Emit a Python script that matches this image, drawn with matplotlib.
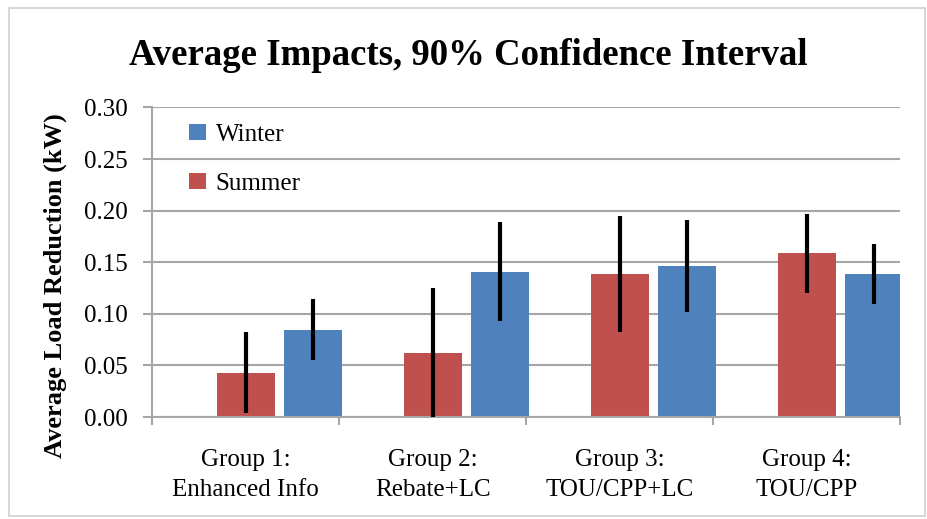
import matplotlib
matplotlib.use('Agg')
from matplotlib import pyplot
from matplotlib.patches import Rectangle
import numpy

groups = ['Group 1:\nEnhanced Info', 'Group 2:\nRebate+LC', 'Group 3:\nTOU/CPP+LC', 'Group 4:\nTOU/CPP']
summer = [0.043, 0.0625, 0.1385, 0.1585]
summer_lo = [0.004, 0.000, 0.082, 0.120]
summer_hi = [0.082, 0.125, 0.1945, 0.1965]
winter = [0.0845, 0.141, 0.146, 0.139]
winter_lo = [0.055, 0.093, 0.102, 0.110]
winter_hi = [0.114, 0.189, 0.191, 0.168]

red = '#C0504D'
blue = '#4F81BD'
grey = '#A6A6A6'
pyplot.rcParams['font.family'] = ['Liberation Serif', 'DejaVu Serif']

fig = pyplot.figure(figsize=(9.27, 5.19), dpi=100)
fig.patches.append(Rectangle((0.0097, 0.006), 0.988, 0.978, transform=fig.transFigure,
                             fill=False, edgecolor='#D0D0D0', lw=1.2))
ax = fig.add_axes([0.164, 0.1965, 0.807, 0.5965])

x = numpy.arange(len(groups))
w = 0.31
s_err = [numpy.array(summer) - numpy.array(summer_lo), numpy.array(summer_hi) - numpy.array(summer)]
w_err = [numpy.array(winter) - numpy.array(winter_lo), numpy.array(winter_hi) - numpy.array(winter)]
ax.bar(x, summer, w, color=red, label='Summer', zorder=2)
ax.bar(x + 0.36, winter, w, color=blue, label='Winter', zorder=2)
ax.errorbar(x, summer, yerr=s_err, fmt='none', ecolor='black', elinewidth=3, capsize=0, zorder=3)
ax.errorbar(x + 0.36, winter, yerr=w_err, fmt='none', ecolor='black', elinewidth=3, capsize=0, zorder=3)

ax.set_xlim(-0.5, 3.5)
ax.set_ylim(0, 0.30)
ax.set_yticks(numpy.arange(0, 0.31, 0.05))
ax.set_yticklabels(['%.2f' % v for v in numpy.arange(0, 0.31, 0.05)], fontsize=18)
ax.set_xticks(x)
ax.set_xticklabels(groups, fontsize=18, linespacing=1.45)
ax.set_xticks(numpy.arange(-0.5, 4, 1), minor=True)
ax.tick_params(axis='x', which='major', length=0, pad=23)
ax.tick_params(axis='x', which='minor', length=6, color=grey, width=1.5)
ax.tick_params(axis='y', length=6.5, color=grey, width=1.5, pad=11)
ax.grid(axis='y', color=grey, lw=1.5, zorder=0)
ax.set_axisbelow(True)
for side in ['top', 'right']:
    ax.spines[side].set_visible(False)
for side in ['left', 'bottom']:
    ax.spines[side].set_color(grey)
    ax.spines[side].set_linewidth(1.5)

ax.set_ylabel('Average Load Reduction (kW)', fontsize=19, fontweight='bold')
ax.yaxis.set_label_coords(-0.114, 0.426)
fig.text(0.505, 0.8748, 'Average Impacts, 90% Confidence Interval', fontsize=26.5,
         fontweight='bold', ha='center', va='baseline')

h, l = ax.get_legend_handles_labels()
ax.legend(h[::-1], l[::-1], loc='upper left', bbox_to_anchor=(0.02, 1.02), frameon=False,
          fontsize=18, labelspacing=1.07, handlelength=0.65, handleheight=0.65, handletextpad=0.4)

fig.savefig('out.png')
